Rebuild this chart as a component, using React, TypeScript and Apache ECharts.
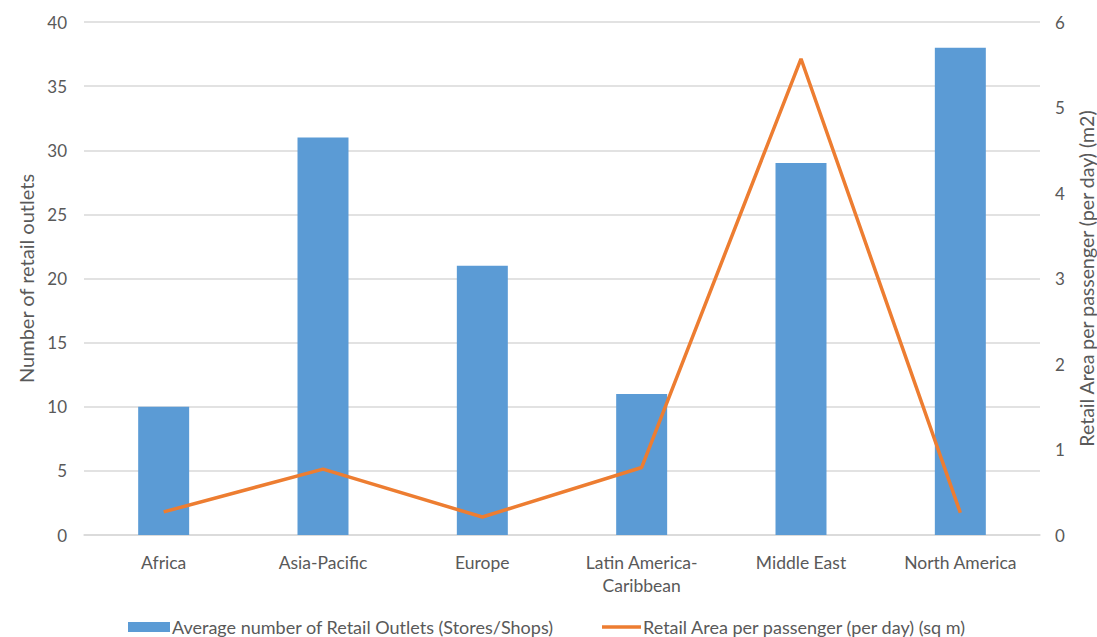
import React, { useEffect, useRef } from "react";
import * as echarts from "echarts";

const categories = ["Africa", "Asia-Pacific", "Europe", "Latin America-\nCaribbean", "Middle East", "North America"];
const outlets = [10, 31, 21, 11, 29, 38];
const areaPerPassenger = [0.27, 0.77, 0.21, 0.79, 5.57, 0.26];
const barName = "Average number of Retail Outlets (Stores/Shops)";
const lineName = "Retail Area per passenger (per day) (sq m)";
const leftAxisName = "Number of retail outlets";
const rightAxisName = "Retail Area per passenger (per day) (m2)";

const FONT = "Lato";
const GRAY = "#595959";

export default function App() {
  const ref = useRef<HTMLDivElement>(null);
  useEffect(() => {
    if (!ref.current) return;
    const chart = echarts.init(ref.current, null, { renderer: "svg" });
    chart.setOption({
      animation: false,
      textStyle: { fontFamily: FONT, color: GRAY },
      grid: { left: 84, right: 57, top: 22, bottom: 102, containLabel: false, outerBoundsMode: "none" },
      legend: [
        {
          data: [{ name: barName, icon: "rect" }],
          left: 128,
          top: 618,
          padding: 0,
          itemWidth: 42,
          itemHeight: 10,
          itemGap: 4,
          textStyle: { fontFamily: FONT, fontSize: 18, color: GRAY, padding: [0, 0, 0, -3] },
        },
        {
          data: [{ name: lineName, icon: "rect" }],
          left: 602,
          top: 618,
          padding: 0,
          itemWidth: 39,
          itemHeight: 3.5,
          textStyle: { fontFamily: FONT, fontSize: 18, color: GRAY, padding: [0, 0, 0, -3] },
        },
      ],
      xAxis: {
        type: "category",
        data: categories,
        axisLine: { lineStyle: { color: "#d9d9d9", width: 1.5 } },
        axisTick: { show: false },
        axisLabel: { fontFamily: FONT, fontSize: 17.5, color: GRAY, margin: 16, lineHeight: 23 },
      },
      yAxis: [
        {
          type: "value",
          min: 0,
          max: 40,
          interval: 5,
          name: leftAxisName,
          nameLocation: "middle",
          nameGap: 48,
          nameTextStyle: { fontFamily: FONT, fontSize: 20, color: GRAY },
          axisLabel: { fontFamily: FONT, fontSize: 17, color: GRAY, margin: 17 },
          splitLine: { lineStyle: { color: "#d9d9d9", width: 1.5 } },
          axisLine: { show: false },
          axisTick: { show: false },
        },
        {
          type: "value",
          min: 0,
          max: 6,
          interval: 1,
          name: rightAxisName,
          nameLocation: "middle",
          nameGap: 36,
          nameRotate: 90,
          nameTextStyle: { fontFamily: FONT, fontSize: 19.5, color: GRAY },
          axisLabel: { fontFamily: FONT, fontSize: 17, color: GRAY, margin: 15 },
          splitLine: { show: false },
          axisLine: { show: false },
          axisTick: { show: false },
        },
      ],
      series: [
        {
          name: barName,
          type: "bar",
          data: outlets,
          barWidth: "32%",
          itemStyle: { color: "#5b9bd5" },
        },
        {
          name: lineName,
          type: "line",
          yAxisIndex: 1,
          data: areaPerPassenger,
          symbol: "none",
          lineStyle: { color: "#ed7d31", width: 3.5 },
          itemStyle: { color: "#ed7d31" },
        },
      ],
    });
    return () => chart.dispose();
  }, []);
  return <div ref={ref} style={{ width: 1097, height: 637, position: "absolute", left: 0, top: 0, background: "#fff" }} />;
}
